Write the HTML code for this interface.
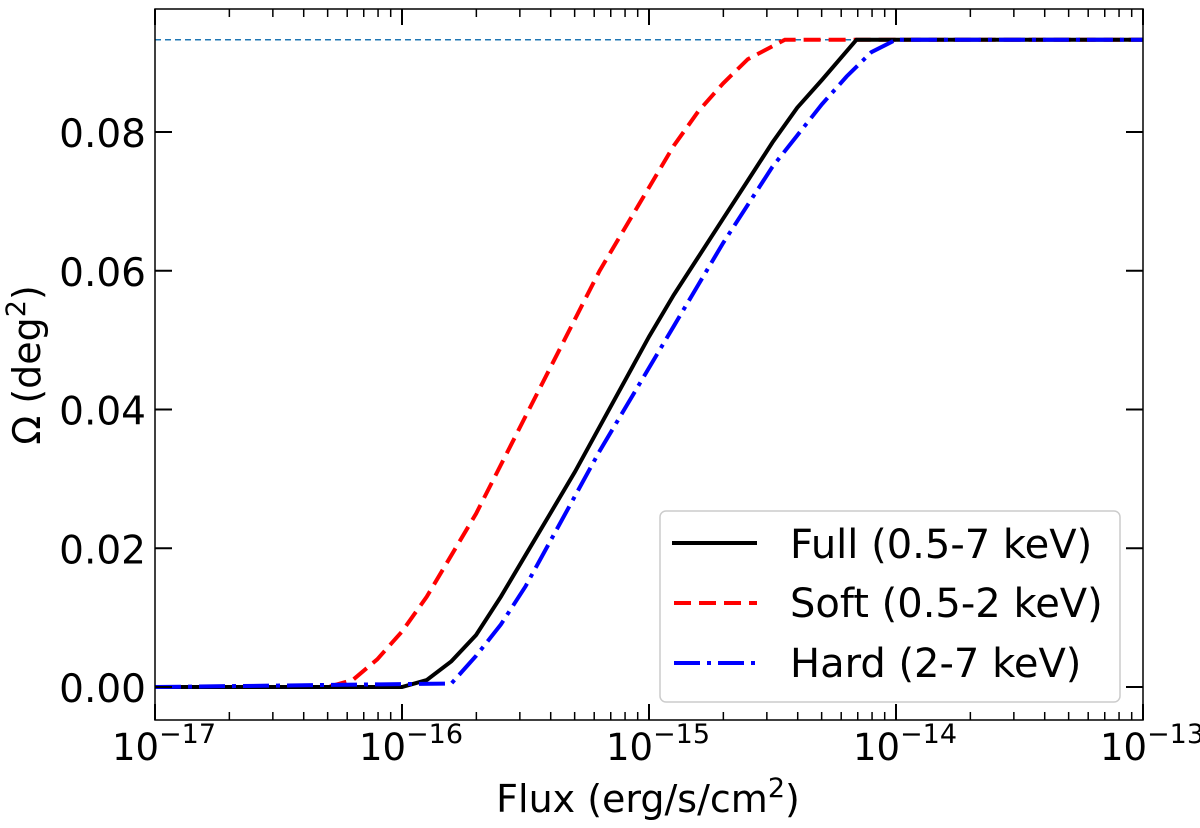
<!DOCTYPE html>
<html><head><meta charset="utf-8"><style>
html,body{margin:0;padding:0;background:#fff;}
svg text{font-family:"DejaVu Sans","Liberation Sans",sans-serif;fill:#000;}
</style></head><body>
<svg id="chart" width="1200" height="823" viewBox="0 0 1200 823" xmlns="http://www.w3.org/2000/svg">
<g id="grid"></g>
<g id="series"></g>
<g id="axes"></g>
</svg>
<script>
const xTickExps = [-17, -16, -15, -14, -13];
const yTicks = [0.00, 0.02, 0.04, 0.06, 0.08];
const yTickLabels = ["0.00", "0.02", "0.04", "0.06", "0.08"];
const maxArea = 0.0933;
const fullLogFlux = [-17, -16.0, -15.9, -15.8, -15.7, -15.6, -15.5, -15.4, -15.3, -15.2, -15.1, -15.0, -14.9, -14.8, -14.7, -14.6, -14.5, -14.4, -14.3, -14.16, -13];
const fullArea = [0, 0, 0.001, 0.0037, 0.0075, 0.013, 0.019, 0.025, 0.031, 0.0375, 0.044, 0.0505, 0.0565, 0.062, 0.0675, 0.073, 0.0785, 0.0835, 0.0875, 0.0933, 0.0933];
const softLogFlux = [-17, -16.3, -16.2, -16.1, -16.0, -15.9, -15.8, -15.7, -15.6, -15.5, -15.4, -15.3, -15.2, -15.1, -15.0, -14.9, -14.8, -14.7, -14.6, -14.45, -13];
const softArea = [0, 0, 0.001, 0.004, 0.008, 0.013, 0.019, 0.025, 0.032, 0.039, 0.046, 0.053, 0.06, 0.066, 0.072, 0.078, 0.083, 0.087, 0.0905, 0.0933, 0.0933];
const hardLogFlux = [-17, -15.8, -15.7, -15.6, -15.5, -15.4, -15.3, -15.2, -15.1, -15.0, -14.9, -14.8, -14.7, -14.6, -14.5, -14.4, -14.3, -14.2, -14.1, -14.0, -13];
const hardArea = [0, 0.0005, 0.0045, 0.009, 0.0145, 0.021, 0.0275, 0.034, 0.040, 0.046, 0.052, 0.058, 0.064, 0.0695, 0.075, 0.0795, 0.084, 0.088, 0.0915, 0.0933, 0.0933];

const L = 155, R = 1143, T = 9, B = 720;
function xs(lg){ return L + (lg + 17) / 4 * (R - L); }
function ys(v){ return 687 - v * 6937.5; }
const NS = "http://www.w3.org/2000/svg";
function mk(tag, attrs, parent){ const e = document.createElementNS(NS, tag); for (const k in attrs) e.setAttribute(k, attrs[k]); parent.appendChild(e); return e; }
const axes = document.getElementById('axes'), series = document.getElementById('series'), grid = document.getElementById('grid');

const ref = mk('line', {x1:L, x2:R, y1:ys(maxArea), y2:ys(maxArea), stroke:'#1f77b4', 'stroke-width':1.5, 'stroke-dasharray':'6,4'}, grid);



function path(lx, vy){ return lx.map((l,i)=>(i?'L':'M')+xs(l).toFixed(1)+','+ys(vy[i]).toFixed(1)).join(' '); }
const sp = mk('path', {d:path(softLogFlux, softArea), fill:'none', stroke:'#ff0000', 'stroke-width':4, 'stroke-dasharray':'17,8'}, series);


const fp = mk('path', {d:path(fullLogFlux, fullArea), fill:'none', stroke:'#000', 'stroke-width':4}, series);


const hp = mk('path', {d:path(hardLogFlux, hardArea), fill:'none', stroke:'#0000ff', 'stroke-width':4, 'stroke-dasharray':'26,7,4,7'}, series);



const fr = mk('rect', {x:L, y:T, width:R-L, height:B-T, fill:'none', stroke:'#000', 'stroke-width':1.5}, axes);



xTickExps.forEach((e, i) => {
  const x = xs(e);
  mk('line', {x1:x, x2:x, y1:B, y2:B-16, stroke:'#000', 'stroke-width':2}, axes);
  mk('line', {x1:x, x2:x, y1:T, y2:T+16, stroke:'#000', 'stroke-width':2}, axes);
  const t = mk('text', {x:x+9, y:760, 'font-size':37, 'text-anchor':'middle'}, axes);
  
  
  t.innerHTML = '10<tspan dy="-17" font-size="27">\u2212' + Math.abs(e) + '</tspan>';
  if (i < xTickExps.length - 1) {
    for (let m = 2; m <= 9; m++) {
      const xm = xs(e + Math.log10(m));
      mk('line', {x1:xm, x2:xm, y1:B, y2:B-8, stroke:'#000', 'stroke-width':1.5}, axes);
      mk('line', {x1:xm, x2:xm, y1:T, y2:T+8, stroke:'#000', 'stroke-width':1.5}, axes);
    }
  }
});
yTicks.forEach((v, i) => {
  const y = ys(v);
  mk('line', {x1:L, x2:L+17, y1:y, y2:y, stroke:'#000', 'stroke-width':2}, axes);
  mk('line', {x1:R, x2:R-17, y1:y, y2:y, stroke:'#000', 'stroke-width':2}, axes);
  const t = mk('text', {x:146, y:y+15, 'font-size':39, 'text-anchor':'end'}, axes);
  
  
  t.textContent = yTickLabels[i];
});
</script>
<svg style="position:absolute;left:0;top:0" width="1200" height="823">
<text x="648" y="812" font-size="38" text-anchor="middle" style="font-family:'DejaVu Sans','Liberation Sans',sans-serif">Flux (erg/s/cm<tspan dy="-15" font-size="27">2</tspan><tspan dy="15">)</tspan></text>
<text transform="translate(40,365) rotate(-90)" font-size="38" text-anchor="middle" style="font-family:'DejaVu Sans','Liberation Sans',sans-serif">Ω (deg<tspan dy="-15" font-size="27">2</tspan><tspan dy="15">)</tspan></text>
<g>
<rect x="660" y="511" width="460" height="191" rx="6" fill="#fff" fill-opacity="0.8" stroke="#ccc" stroke-width="1.5"/>
<g>
<line x1="672" x2="757" y1="543" y2="543" stroke="#000" stroke-width="4"/>
<text x="790" y="558" font-size="40" style="font-family:'DejaVu Sans','Liberation Sans',sans-serif">Full (0.5-7 keV)</text></g>
<g>
<line x1="674" x2="757" y1="603" y2="603" stroke="#ff0000" stroke-width="4" stroke-dasharray="17,8"/>
<text x="790" y="617" font-size="40" style="font-family:'DejaVu Sans','Liberation Sans',sans-serif">Soft (0.5-2 keV)</text></g>
<g>
<line x1="674" x2="757" y1="663" y2="663" stroke="#0000ff" stroke-width="4" stroke-dasharray="26,7,4,7"/>
<text x="790" y="677" font-size="40" style="font-family:'DejaVu Sans','Liberation Sans',sans-serif">Hard (2-7 keV)</text></g>
</g>
</svg>
</body></html>
